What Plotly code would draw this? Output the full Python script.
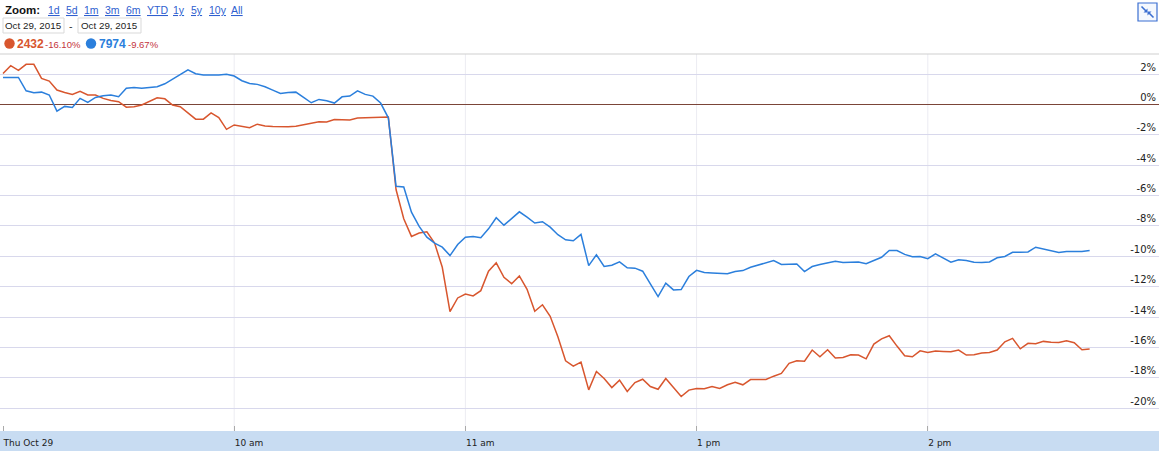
import plotly.graph_objects as go

# ---------------- data ----------------
stock_a = "2432"
stock_b = "7974"
change_a = "-16.10%"
change_b = "-9.67%"
date_from = "Oct 29, 2015"
date_to = "Oct 29, 2015"
zoom_links = ["1d", "5d", "1m", "3m", "6m", "YTD", "1y", "5y", "10y", "All"]

# % change, one point every 2 trading minutes (09:00-11:30, 12:32-14:42)
pct_a = [
    2.04, 2.55, 2.24, 2.64, 2.64, 1.71, 1.54, 0.95, 0.79, 0.66,
    0.86, 0.62, 0.62, 0.40, 0.26, 0.18, -0.18, -0.15, -0.04, 0.18,
    0.44, 0.37, -0.04, -0.15, -0.59, -0.97, -0.97, -0.56, -0.87, -1.64,
    -1.35, -1.42, -1.53, -1.30, -1.42, -1.45, -1.46, -1.47, -1.43, -1.35,
    -1.25, -1.14, -1.16, -0.99, -1.01, -1.02, -0.90, -0.88, -0.88, -0.89,
    -0.83, -5.60, -7.53, -8.69, -8.47, -8.39, -9.13, -10.72, -13.64, -12.74,
    -12.48, -12.61, -12.26, -10.98, -10.43, -11.38, -11.80, -11.29, -12.17, -13.62,
    -13.19, -13.95, -15.30, -16.88, -17.23, -16.97, -18.79, -17.58, -18.04, -18.64,
    -18.15, -18.90, -18.31, -18.09, -18.57, -18.75, -18.04, -18.64, -19.23, -18.81,
    -18.70, -18.72, -18.57, -18.70, -18.46, -18.29, -18.46, -18.11, -18.11, -18.11,
    -17.89, -17.71, -17.05, -16.88, -16.90, -16.17, -16.61, -16.15, -16.70, -16.66,
    -16.48, -16.50, -16.75, -15.78, -15.43, -15.23, -15.91, -16.55, -16.61, -16.22,
    -16.33, -16.24, -16.26, -16.28, -16.17, -16.50, -16.48, -16.37, -16.33, -16.17,
    -15.63, -15.40, -16.09, -15.73, -15.76, -15.60, -15.65, -15.67, -15.56, -15.69,
    -16.15, -16.10,
]
pct_b = [
    1.78, 1.78, 1.78, 0.90, 0.77, 0.81, 0.62, -0.44, -0.13, -0.20,
    0.40, 0.13, 0.46, 0.57, 0.62, 0.51, 1.06, 1.12, 1.06, 1.12,
    1.17, 1.36, 1.67, 1.98, 2.27, 2.02, 1.93, 1.93, 1.93, 1.98,
    1.87, 1.56, 1.38, 1.32, 1.16, 0.94, 0.72, 0.79, 0.81, 0.46,
    0.11, 0.33, 0.24, 0.09, 0.50, 0.55, 0.90, 0.66, 0.55, 0.09,
    -0.88, -5.39, -5.44, -7.09, -8.03, -8.74, -9.13, -9.40, -9.95, -9.22,
    -8.74, -8.69, -8.78, -8.19, -7.46, -7.95, -7.53, -7.07, -7.42, -7.81,
    -7.72, -8.08, -8.58, -8.91, -8.98, -8.56, -10.61, -9.90, -10.67, -10.59,
    -10.36, -10.76, -10.78, -10.98, -11.82, -12.65, -11.77, -12.21, -12.19, -11.33,
    -10.92, -11.07, -11.09, -11.14, -11.15, -11.00, -10.94, -10.72, -10.56, -10.41,
    -10.28, -10.54, -10.50, -10.50, -11.00, -10.67, -10.54, -10.41, -10.32, -10.41,
    -10.37, -10.37, -10.48, -10.28, -10.06, -9.62, -9.62, -9.87, -10.02, -10.01,
    -10.15, -9.84, -10.10, -10.39, -10.23, -10.28, -10.39, -10.41, -10.37, -10.10,
    -10.01, -9.73, -9.73, -9.71, -9.40, -9.53, -9.66, -9.75, -9.68, -9.68,
    -9.68, -9.62,
]

# trading clock times (lunch break 11:30-12:30 removed from the axis)
times = [f"{9 + m // 60}:{m % 60:02d}" for m in range(0, 151, 2)] + \
        [f"{9 + m // 60}:{m % 60:02d}" for m in range(212, 343, 2)]


def session_minute(t):
    h, m = map(int, t.split(":"))
    mins = (h - 9) * 60 + m
    return mins - 60 if mins > 150 else mins


x_vals = [session_minute(t) for t in times]

x_tick_vals = [0, 60, 120, 180, 240]
x_tick_text = ["Thu Oct 29", "10 am", "11 am", "1 pm", "2 pm"]
y_tick_vals = [2, 0, -2, -4, -6, -8, -10, -12, -14, -16, -18, -20]
y_tick_text = [f"{v}%" for v in y_tick_vals]

# ---------------- styling / layout ----------------
W, H = 1159, 451
T, B = 54, 20
PH = H - T - B

COL_A = "#d8562e"
COL_B = "#2b7fdc"
LINK = "#2f5fcf"
RED = "#c4343c"


def px(x):
    return x / W


def py(y):
    return 1 + (T - y) / PH


fig = go.Figure()
fig.add_trace(go.Scatter(x=x_vals, y=pct_a, mode="lines",
                         line=dict(color=COL_A, width=1.5), name=stock_a))
fig.add_trace(go.Scatter(x=x_vals, y=pct_b, mode="lines",
                         line=dict(color=COL_B, width=1.5), name=stock_b))

shapes = []
annotations = []

# vertical hour grid lines (not at the session start)
for tv in x_tick_vals[1:]:
    shapes.append(dict(type="line", xref="x", yref="paper", x0=tv, x1=tv, y0=0, y1=1,
                       line=dict(color="#ececf2", width=1), layer="below"))

# bottom time band
shapes.append(dict(type="rect", xref="paper", yref="paper", x0=0, x1=1,
                   y0=py(H), y1=py(T + PH), fillcolor="#c8dcf2",
                   line=dict(width=0), layer="below"))
# top border
shapes.append(dict(type="line", xref="paper", yref="paper", x0=0, x1=1,
                   y0=1, y1=1, line=dict(color="#cfcfcf", width=1)))

# header: Zoom links
annotations.append(dict(text="<b>Zoom:</b>", x=px(3), y=py(10), xref="paper", yref="paper",
                        xanchor="left", yanchor="middle", showarrow=False,
                        font=dict(family="Liberation Sans, Arial", size=11.5, color="#111")))
link_x = [46, 64, 82, 103, 124, 145, 171, 189, 207, 229]
for lab, lx in zip(zoom_links, link_x):
    annotations.append(dict(text=f"<u>{lab}</u>", x=px(lx), y=py(10), xref="paper", yref="paper",
                            xanchor="left", yanchor="middle", showarrow=False,
                            font=dict(family="Liberation Sans, Arial", size=10.5, color=LINK)))

# date boxes
for (bx0, bx1, txt) in [(3, 64, date_from), (78, 141, date_to)]:
    shapes.append(dict(type="rect", xref="paper", yref="paper", x0=px(bx0), x1=px(bx1),
                       y0=py(33), y1=py(18), line=dict(color="#d9d9d9", width=1),
                       fillcolor="white"))
    annotations.append(dict(text=txt, x=px((bx0 + bx1) / 2), y=py(26), xref="paper", yref="paper",
                            xanchor="center", yanchor="middle", showarrow=False,
                            font=dict(family="Liberation Sans, Arial", size=9.8, color="#222")))
annotations.append(dict(text="-", x=px(71), y=py(26), xref="paper", yref="paper",
                        xanchor="center", yanchor="middle", showarrow=False,
                        font=dict(family="Liberation Sans, Arial", size=10.5, color="#333")))

# legend dots and values
for (cx, col, name, chg, tx, cx2) in [(9.5, COL_A, stock_a, change_a, 15, 43),
                                      (91, COL_B, stock_b, change_b, 97, 126)]:
    shapes.append(dict(type="circle", xref="paper", yref="paper",
                       x0=px(cx - 5.2), x1=px(cx + 5.2), y0=py(43.5 + 5.2), y1=py(43.5 - 5.2),
                       fillcolor=col, line=dict(width=0)))
    annotations.append(dict(text=f"<b>{name}</b>", x=px(tx), y=py(43.5), xref="paper", yref="paper",
                            xanchor="left", yanchor="middle", showarrow=False,
                            font=dict(family="Liberation Sans, Arial", size=12, color=col)))
    annotations.append(dict(text=chg, x=px(cx2), y=py(44.5), xref="paper", yref="paper",
                            xanchor="left", yanchor="middle", showarrow=False,
                            font=dict(family="Liberation Sans, Arial", size=9.5, color=RED)))

# top-right collapse icon
shapes.append(dict(type="rect", xref="paper", yref="paper", x0=px(1138), x1=px(1157),
                   y0=py(21), y1=py(3), line=dict(color="#3b6fd1", width=1.2),
                   fillcolor="#f4f8fe"))
for (a, b) in [((1141.5, 6.5), (1146.5, 11.5)), ((1153.5, 17.5), (1148.5, 12.5))]:
    shapes.append(dict(type="line", xref="paper", yref="paper", x0=px(a[0]), y0=py(a[1]),
                       x1=px(b[0]), y1=py(b[1]), line=dict(color="#3b6fd1", width=1.6)))
shapes.append(dict(type="path", xref="paper", yref="paper",
                   path=f"M {px(1147.5)} {py(12.5)} L {px(1143.5)} {py(12.5)} L {px(1147.5)} {py(8.5)} Z",
                   fillcolor="#3b6fd1", line=dict(width=0)))
shapes.append(dict(type="path", xref="paper", yref="paper",
                   path=f"M {px(1147.5)} {py(11.5)} L {px(1151.5)} {py(11.5)} L {px(1147.5)} {py(15.5)} Z",
                   fillcolor="#3b6fd1", line=dict(width=0)))

fig.update_layout(
    width=W, height=H,
    margin=dict(l=0, r=0, t=T, b=B, pad=0),
    paper_bgcolor="white", plot_bgcolor="white",
    showlegend=False,
    shapes=shapes, annotations=annotations,
    xaxis=dict(
        range=[-0.78, 300], tickmode="array", tickvals=x_tick_vals, ticktext=x_tick_text,
        showgrid=False, zeroline=False, showline=False,
        ticks="inside", ticklen=5, tickcolor="#aaaaaa",
        ticklabelposition="outside right", ticklabelstandoff=5,
        tickfont=dict(family="DejaVu Sans, Verdana", size=9, color="#222"),
        fixedrange=True,
    ),
    yaxis=dict(
        range=[-21.5, 3.32], side="right", tickmode="array",
        tickvals=y_tick_vals, ticktext=y_tick_text,
        ticklabelposition="inside top",
        showgrid=True, gridcolor="#d8d8ec", gridwidth=1,
        zeroline=True, zerolinecolor="#7b4538", zerolinewidth=1.2,
        showline=False, ticks="",
        tickfont=dict(family="DejaVu Sans, Verdana", size=10, color="#222"),
        fixedrange=True,
    ),
)

fig.write_html("out.html", config={"displayModeBar": False},
               post_script="document.body.style.margin='0';")
